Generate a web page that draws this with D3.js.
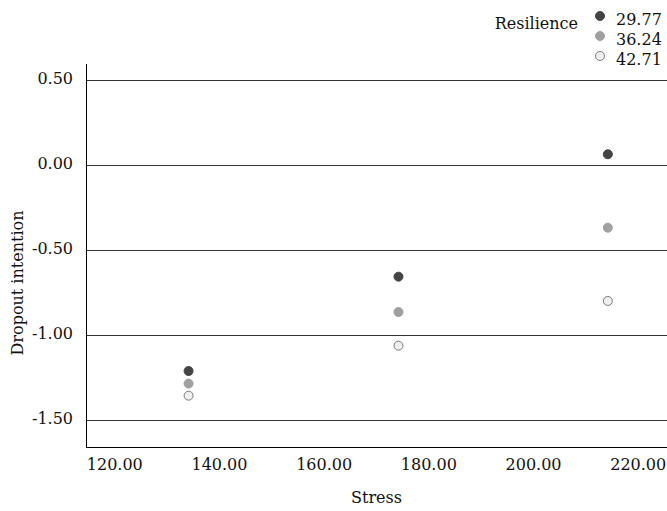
<!DOCTYPE html>
<html>
<head>
<meta charset="utf-8">
<script src="https://cdn.jsdelivr.net/npm/d3@7"></script>
<style>
  html, body { margin: 0; padding: 0; background: #fff; }
  svg { display: block; font-family: "DejaVu Serif", serif; }
</style>
</head>
<body>
<svg id="chart" width="667" height="511"></svg>
<script>
// ---- data ----
const stressLevels = [134.2, 174.3, 214.3];
const resilienceLevels = ["29.77", "36.24", "42.71"];
const dropoutLow  = [-1.212, -0.657, 0.063];   // Resilience 29.77
const dropoutMid  = [-1.286, -0.865, -0.369];  // Resilience 36.24
const dropoutHigh = [-1.357, -1.063, -0.800];  // Resilience 42.71
const xTicks = [120, 140, 160, 180, 200, 220];
const yTicks = [0.5, 0, -0.5, -1.0, -1.5];
const xDomain = [114.6, 225.6];
const yDomain = [-1.659, 0.594];

const seriesValues = [dropoutLow, dropoutMid, dropoutHigh];
const fills = ["#444444", "#a0a0a0", "#efefef"];
const strokes = ["#444444", "#a0a0a0", "#7a7a7a"];

const fmt = d3.formatLocale({ decimal: ".", thousands: ",", grouping: [3], currency: ["", ""], minus: "-" }).format(".2f");

const svg = d3.select("#chart");
const margin = { left: 86, right: 0, top: 64, bottom: 64 };
const W = 667, H = 511;

const x = d3.scaleLinear().domain(xDomain).range([margin.left, W - margin.right]);
const y = d3.scaleLinear().domain(yDomain).range([H - margin.bottom, margin.top]);

// gridlines
svg.append("g")
  .selectAll("line")
  .data(yTicks)
  .join("line")
  .attr("x1", margin.left).attr("x2", W - margin.right)
  .attr("y1", d => Math.round(y(d)) + 0.5).attr("y2", d => Math.round(y(d)) + 0.5)
  .attr("stroke", "#333").attr("stroke-width", 1);

// y axis
const yAxis = svg.append("g")
  .attr("transform", `translate(${margin.left},0)`)
  .call(d3.axisLeft(y).tickValues(yTicks).tickFormat(fmt).tickSize(0).tickPadding(13));
yAxis.select(".domain").remove();
yAxis.selectAll("text").attr("font-size", 16).attr("font-family", "DejaVu Serif").attr("fill", "#111").attr("dy", "0.2em");

// x axis
const xAxis = svg.append("g")
  .attr("transform", `translate(0,${H - margin.bottom})`)
  .call(d3.axisBottom(x).tickValues(xTicks).tickFormat(fmt).tickSize(0).tickPadding(12));
xAxis.select(".domain").remove();
xAxis.selectAll("text").attr("font-size", 16).attr("font-family", "DejaVu Serif").attr("fill", "#111");

// axis lines
svg.append("line")
  .attr("x1", margin.left + 0.5).attr("x2", margin.left + 0.5)
  .attr("y1", margin.top).attr("y2", H - margin.bottom + 0.5)
  .attr("stroke", "#000");
svg.append("line")
  .attr("x1", margin.left).attr("x2", W - margin.right)
  .attr("y1", H - margin.bottom + 0.5).attr("y2", H - margin.bottom + 0.5)
  .attr("stroke", "#000");

// axis titles
svg.append("text")
  .attr("x", (margin.left + W) / 2).attr("y", 503)
  .attr("text-anchor", "middle").attr("font-size", 16).attr("fill", "#111")
  .text("Stress");
svg.append("text")
  .attr("transform", `translate(23,283) rotate(-90)`)
  .attr("text-anchor", "middle").attr("font-size", 16).attr("fill", "#111")
  .text("Dropout intention");

// points
seriesValues.forEach((vals, i) => {
  svg.append("g")
    .selectAll("circle")
    .data(vals)
    .join("circle")
    .attr("cx", (d, j) => x(stressLevels[j]))
    .attr("cy", d => y(d))
    .attr("r", 4.5)
    .attr("fill", fills[i])
    .attr("stroke", strokes[i])
    .attr("stroke-width", 1);
});

// legend
const legend = svg.append("g");
legend.append("text")
  .attr("x", 578).attr("y", 29)
  .attr("text-anchor", "end").attr("font-size", 16).attr("fill", "#111")
  .text("Resilience");
resilienceLevels.forEach((lab, i) => {
  legend.append("circle")
    .attr("cx", 600).attr("cy", 16 + i * 20)
    .attr("r", 4.5)
    .attr("fill", fills[i]).attr("stroke", strokes[i]);
  legend.append("text")
    .attr("x", 616).attr("y", 25 + i * 20)
    .attr("font-size", 16).attr("fill", "#111")
    .text(lab);
});
</script>
</body>
</html>
